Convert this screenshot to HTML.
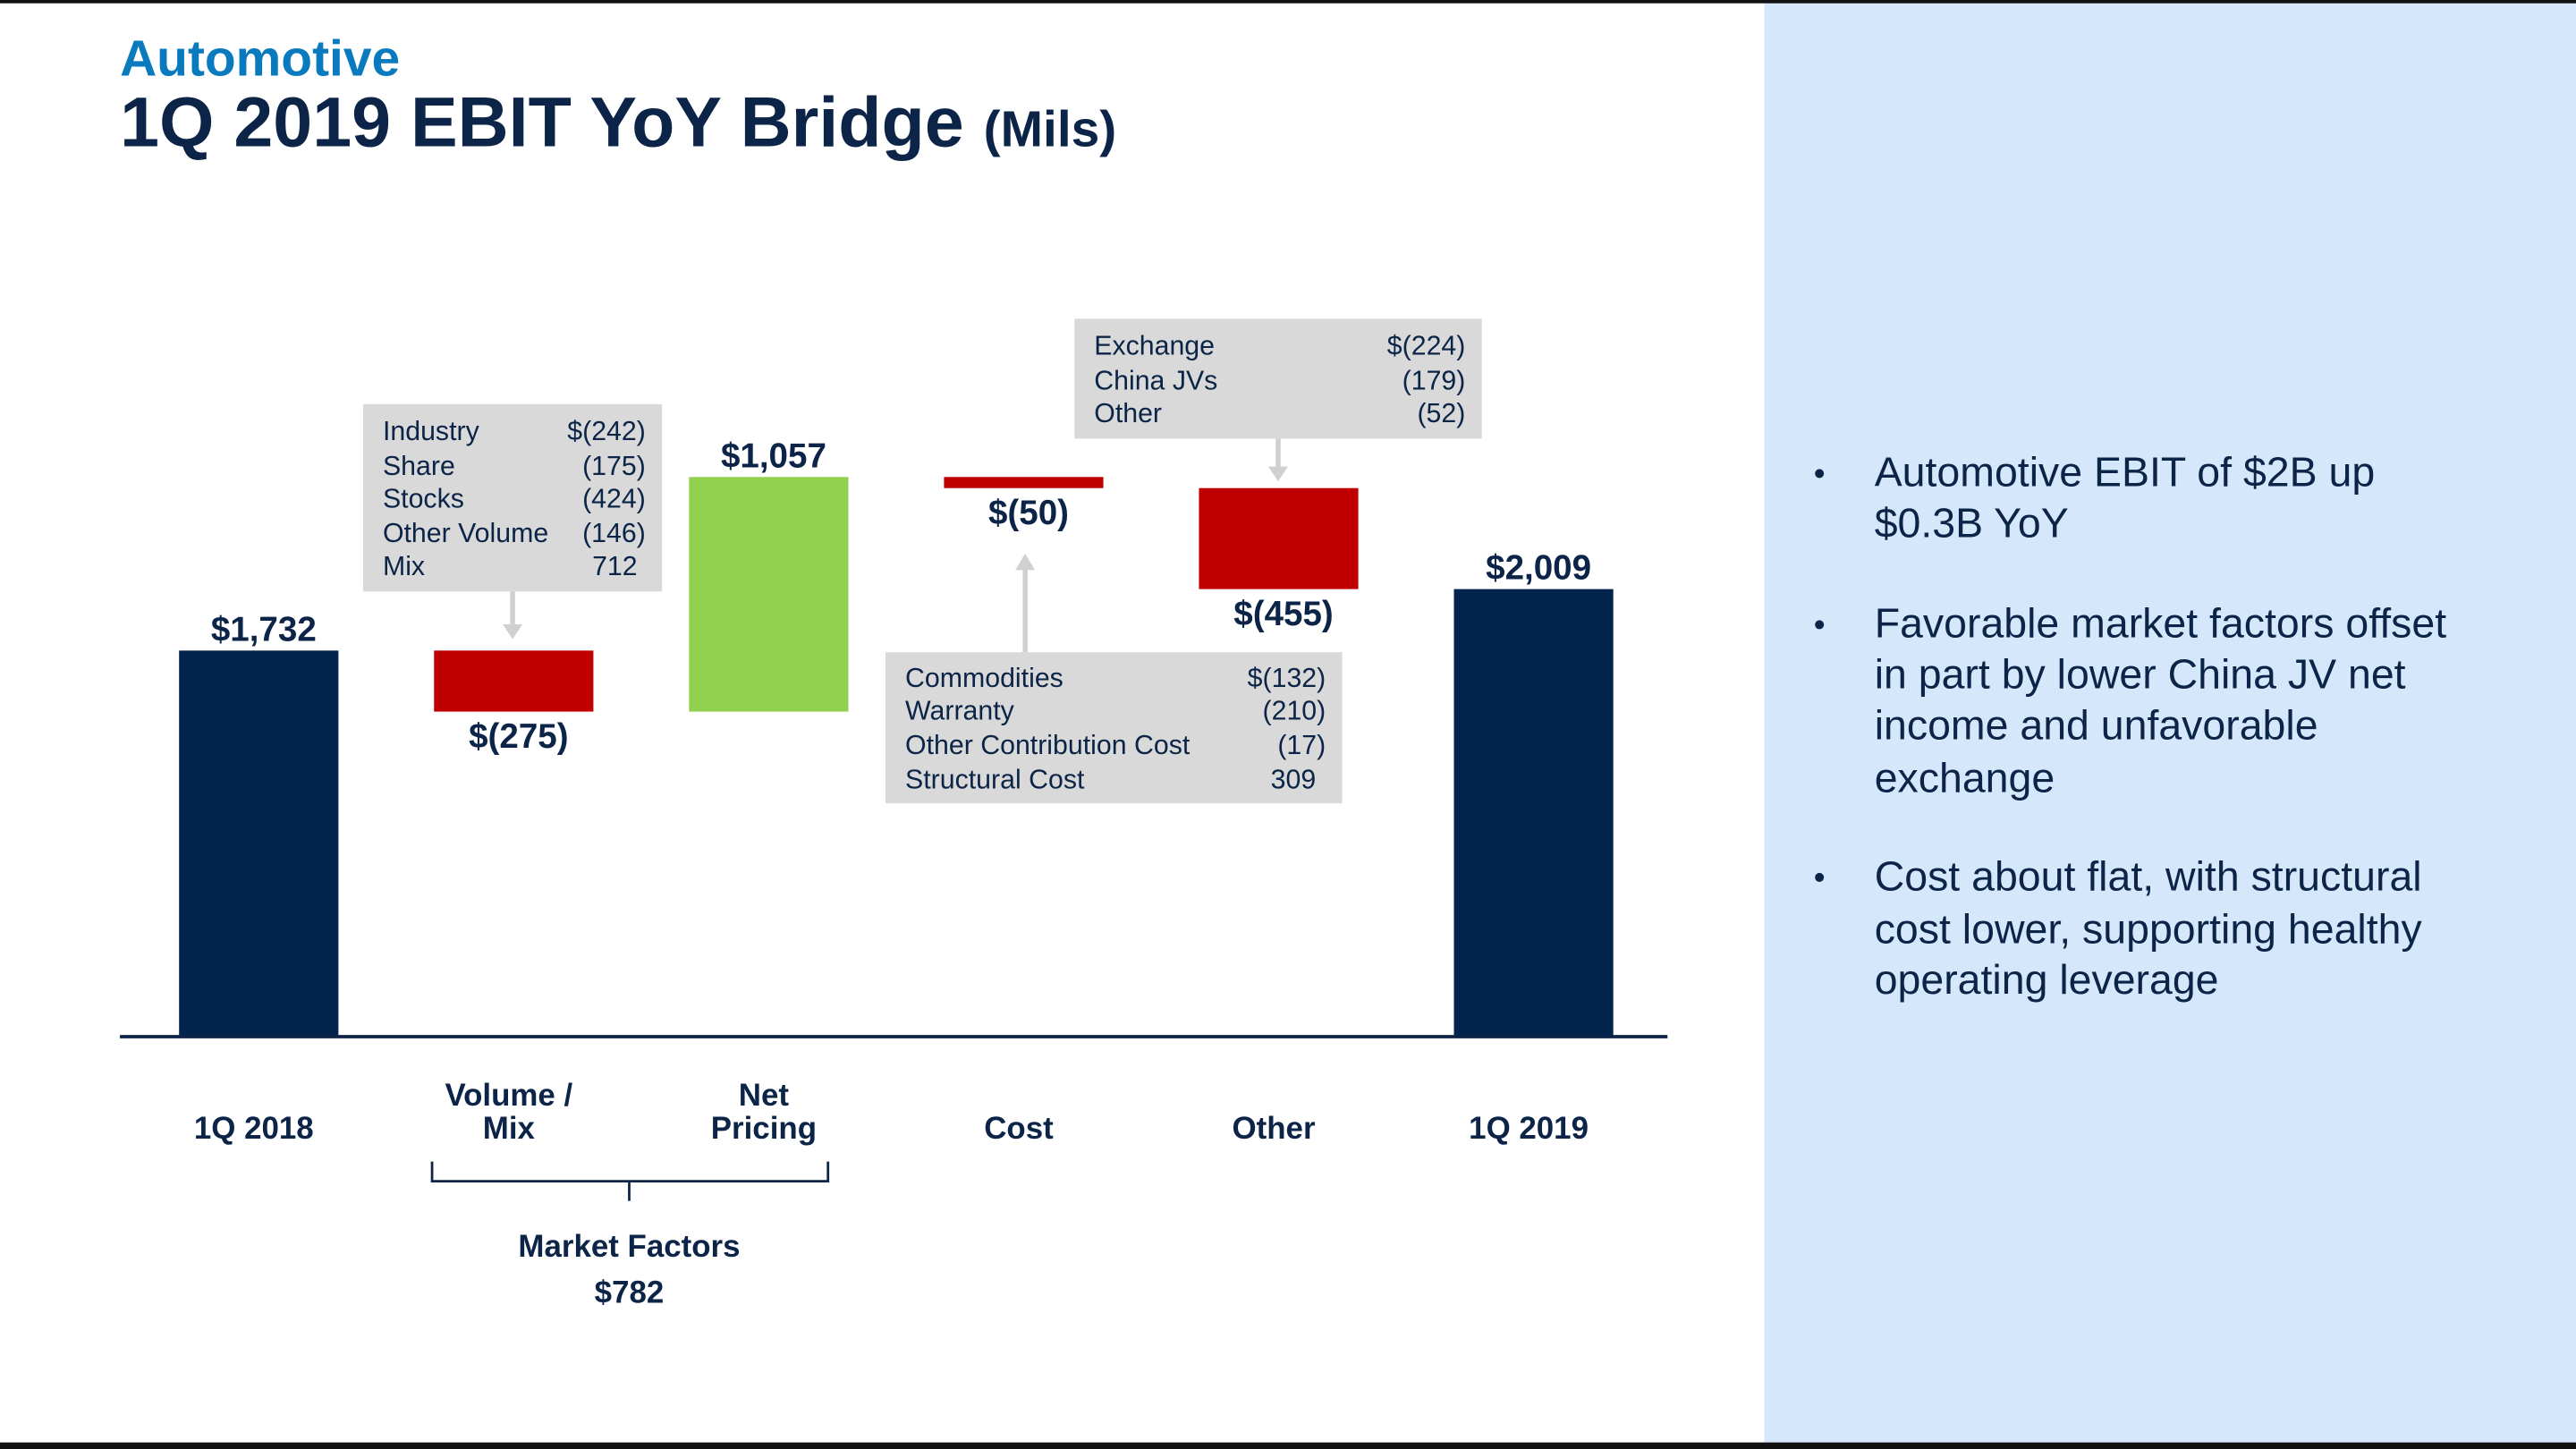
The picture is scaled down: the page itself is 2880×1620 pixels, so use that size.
<!DOCTYPE html>
<html><head><meta charset="utf-8"><style>
html,body{margin:0;padding:0;background:#fff;}
svg{display:block;}
text{font-family:"Liberation Sans",Arial,sans-serif;}
</style></head><body>
<svg id="chart" width="2880" height="1620" viewBox="0 0 1568 882" xmlns="http://www.w3.org/2000/svg">
<rect x="0" y="0" width="1568" height="882" fill="#ffffff"/>
<rect x="1074" y="0" width="494" height="882" fill="#d5e7fb"/>
<rect x="0" y="0" width="1568" height="2" fill="#111"/>
<rect x="0" y="878" width="1568" height="4" fill="#111"/>
<text x="73" y="46" font-size="31" font-weight="bold" fill="#0a7abf">Automotive</text>
<text x="73" y="89" font-size="43" font-weight="bold" fill="#0b2447">1Q 2019 EBIT YoY Bridge <tspan font-size="31">(Mils)</tspan></text>

<g id="bars"></g>
<line x1="73" y1="631" x2="1015" y2="631" stroke="#0b2447" stroke-width="2"/>

<g font-size="16.5" fill="#0b2447">
<rect x="221" y="246" width="182" height="114" fill="#d9d9d9"/>
<text x="233" y="268">Industry</text><text x="393" y="268" text-anchor="end">$(242)</text>
<text x="233" y="289">Share</text><text x="393" y="289" text-anchor="end">(175)</text>
<text x="233" y="309">Stocks</text><text x="393" y="309" text-anchor="end">(424)</text>
<text x="233" y="330">Other Volume</text><text x="393" y="330" text-anchor="end">(146)</text>
<text x="233" y="350">Mix</text><text x="388" y="350" text-anchor="end">712</text>
<line x1="312" y1="360" x2="312" y2="380" stroke="#d0d0d0" stroke-width="3"/>
<path d="M306,380 L318,380 L312,389 Z" fill="#d0d0d0"/>
</g>
<g font-size="16.5" fill="#0b2447">
<rect x="654" y="194" width="248" height="73" fill="#d9d9d9"/>
<text x="666" y="216">Exchange</text><text x="892" y="216" text-anchor="end">$(224)</text>
<text x="666" y="237">China JVs</text><text x="892" y="237" text-anchor="end">(179)</text>
<text x="666" y="257">Other</text><text x="892" y="257" text-anchor="end">(52)</text>
<line x1="778" y1="267" x2="778" y2="285" stroke="#d0d0d0" stroke-width="3"/>
<path d="M772,284 L784,284 L778,293 Z" fill="#d0d0d0"/>
</g>
<g font-size="16.5" fill="#0b2447">
<rect x="539" y="397" width="278" height="92" fill="#d9d9d9"/>
<text x="551" y="418">Commodities</text><text x="807" y="418" text-anchor="end">$(132)</text>
<text x="551" y="438">Warranty</text><text x="807" y="438" text-anchor="end">(210)</text>
<text x="551" y="459">Other Contribution Cost</text><text x="807" y="459" text-anchor="end">(17)</text>
<text x="551" y="480">Structural Cost</text><text x="801" y="480" text-anchor="end">309</text>
<line x1="624" y1="397" x2="624" y2="345" stroke="#d0d0d0" stroke-width="3"/>
<path d="M618,347 L630,347 L624,337 Z" fill="#d0d0d0"/>
</g>

<g id="cats" font-size="19" font-weight="bold" fill="#0b2447" text-anchor="middle"></g>

<path d="M263,707 L263,719 L383,719 L383,731 M383,719 L504,719 L504,707" fill="none" stroke="#0b2447" stroke-width="1.5"/>
<text x="383" y="765" font-size="19" font-weight="bold" fill="#0b2447" text-anchor="middle">Market Factors</text>
<text x="383" y="793" font-size="19" font-weight="bold" fill="#0b2447" text-anchor="middle">$782</text>

<g font-size="25.3" fill="#0b2447">
<text x="1104" y="295" font-size="20">•</text>
<text x="1141" y="296">Automotive EBIT of $2B up</text>
<text x="1141" y="327">$0.3B YoY</text>
<text x="1104" y="387" font-size="20">•</text>
<text x="1141" y="388">Favorable market factors offset</text>
<text x="1141" y="419">in part by lower China JV net</text>
<text x="1141" y="450">income and unfavorable</text>
<text x="1141" y="482">exchange</text>
<text x="1104" y="541" font-size="20">•</text>
<text x="1141" y="542">Cost about flat, with structural</text>
<text x="1141" y="574">cost lower, supporting healthy</text>
<text x="1141" y="605">operating leverage</text>
</g>
</svg>
<script>
const categories = [["1Q 2018"], ["Volume /","Mix"], ["Net","Pricing"], ["Cost"], ["Other"], ["1Q 2019"]];
const values = [1732, -275, 1057, -50, -455, 2009];
const kinds = ["total", "delta", "delta", "delta", "delta", "total"];
const valueLabels = ["$1,732", "$(275)", "$1,057", "$(50)", "$(455)", "$2,009"];

const NS = "http://www.w3.org/2000/svg";
const baseY = 631, scale = 234 / 1732;
function yOf(v){ return baseY - v * scale - 1; }
function xOf(i){ return 109 + i * 155.2; }
const barW = 97;
const gBars = document.getElementById('bars');
const gCats = document.getElementById('cats');
let running = 0;
values.forEach((v, i) => {
  let lo, hi, color;
  if (kinds[i] === 'total') { lo = 0; hi = v; running = v; color = '#02234b'; }
  else { const s = running; running += v; lo = Math.min(s, running); hi = Math.max(s, running); color = v < 0 ? '#c00000' : '#92d050'; }
  const r = document.createElementNS(NS, 'rect');
  const yBottom = lo === 0 ? baseY : yOf(lo);
  r.setAttribute('x', xOf(i)); r.setAttribute('width', barW);
  r.setAttribute('y', yOf(hi)); r.setAttribute('height', Math.max(yBottom - yOf(hi), 1));
  r.setAttribute('fill', color);
  
  
  gBars.appendChild(r);
  const t = document.createElementNS(NS, 'text');
  const neg = kinds[i] === 'delta' && v < 0;
  t.setAttribute('x', xOf(i) + barW / 2 + 3);
  t.setAttribute('y', neg ? yOf(lo) + 22 : yOf(hi) - 6);
  t.setAttribute('text-anchor', 'middle');
  t.setAttribute('font-size', '21'); t.setAttribute('font-weight', 'bold'); t.setAttribute('fill', '#0b2447');
  t.textContent = valueLabels[i];
  
  
  gBars.appendChild(t);
  const c = document.createElementNS(NS, 'text');
  c.setAttribute('x', xOf(i) + barW / 2 - 3);
  
  
  const lines = categories[i];
  lines.forEach((ln, k) => {
    const ts = document.createElementNS(NS, 'tspan');
    ts.setAttribute('x', xOf(i) + barW / 2 - 3);
    ts.setAttribute('y', 693 - (lines.length - 1 - k) * 20);
    ts.textContent = ln;
    c.appendChild(ts);
  });
  gCats.appendChild(c);
});
</script>
</body></html>
